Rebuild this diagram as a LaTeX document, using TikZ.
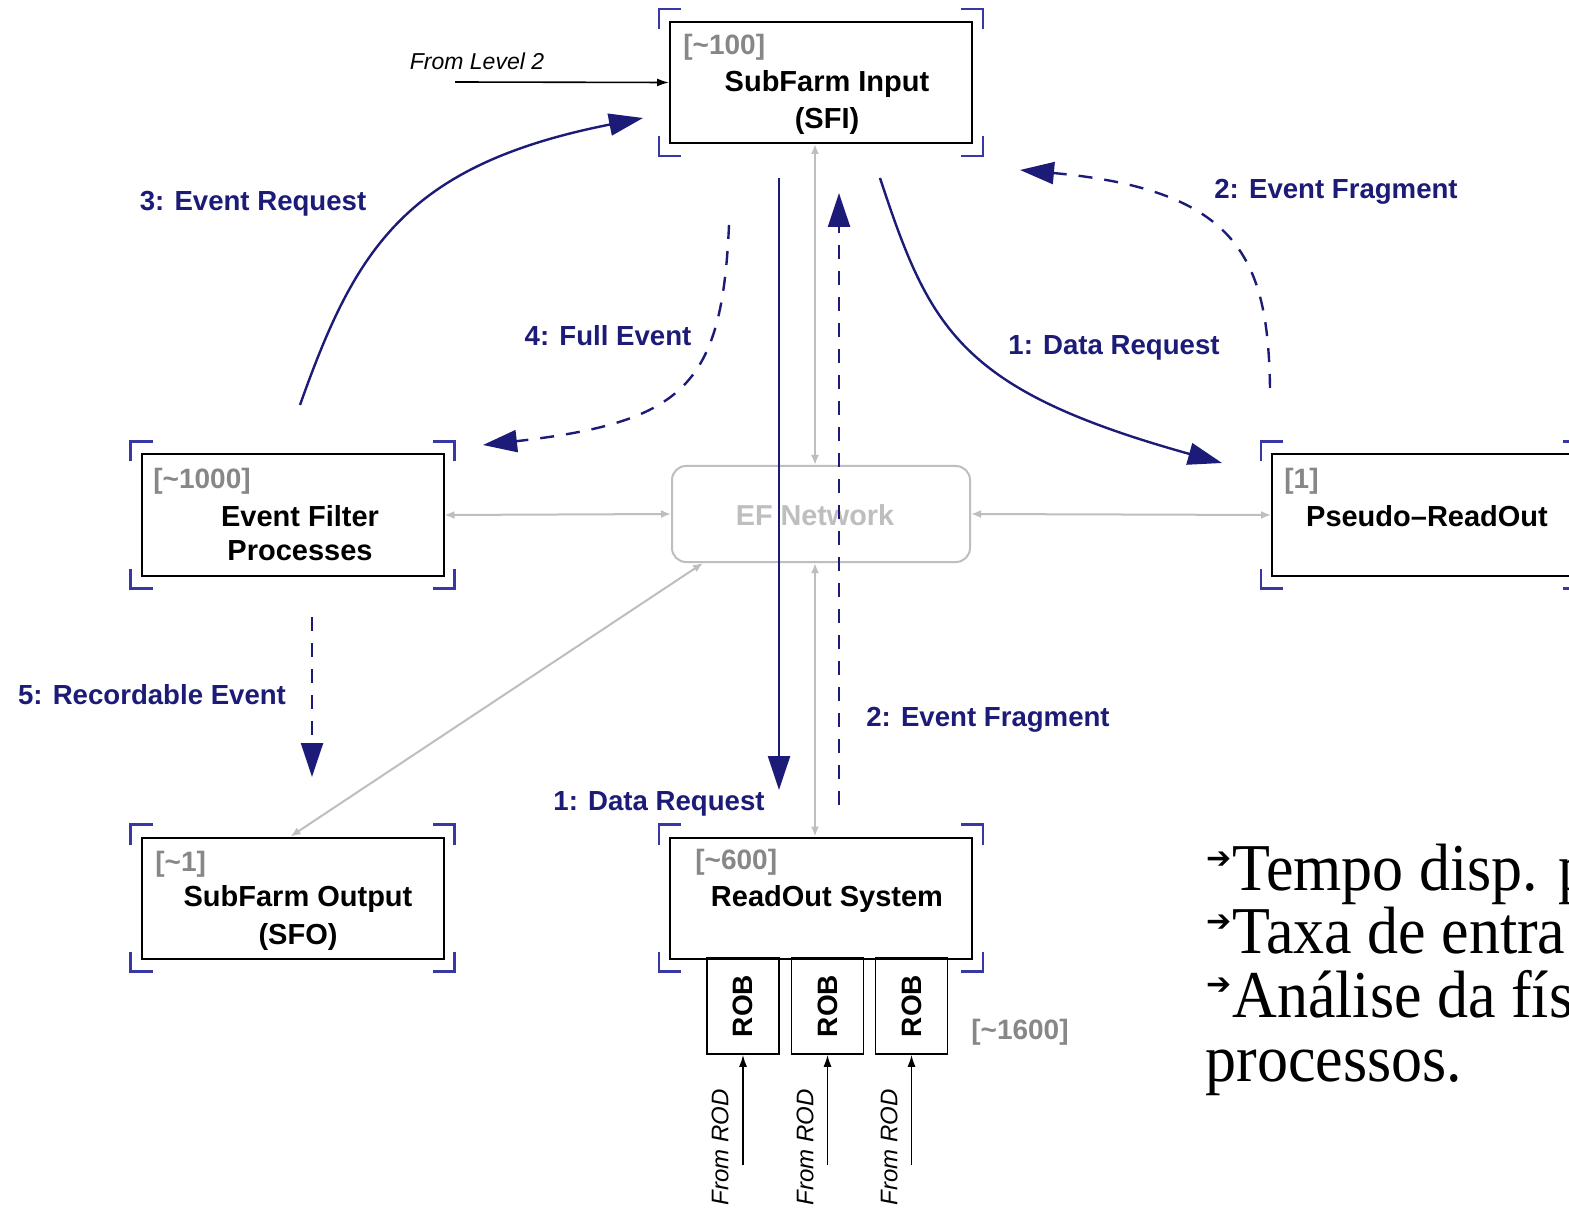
\documentclass[tikz,border=0pt]{standalone}
\usepackage{fontspec}
\setmainfont{Liberation Serif}
\setsansfont{Liberation Sans}
\newfontfamily\dvfont{DejaVu Sans}
\usetikzlibrary{arrows.meta,calc}
\definecolor{navy}{RGB}{28,28,120}
\definecolor{brkc}{RGB}{55,55,165}
\definecolor{lgray}{RGB}{190,190,190}
\definecolor{tgray}{RGB}{135,135,135}
\newcommand\boxcorners[1]{%
  \draw[brk] ([shift={(-5pt,-4pt)}]#1.north west) -- ++(0pt,10pt) -- ++(11pt,0pt);
  \draw[brk] ([shift={(5pt,-4pt)}]#1.north east) -- ++(0pt,10pt) -- ++(-11pt,0pt);
  \draw[brk] ([shift={(-5pt,4pt)}]#1.south west) -- ++(0pt,-10pt) -- ++(11pt,0pt);
  \draw[brk] ([shift={(5pt,4pt)}]#1.south east) -- ++(0pt,-10pt) -- ++(-11pt,0pt);
}
\newcommand\tallt[1]{\scalebox{1}[1.08]{#1}}
\begin{document}
\begin{tikzpicture}[x=0.5pt,y=-0.5pt,
  box/.style={draw=black,line width=1pt,minimum width=151pt,minimum height=60.5pt,inner sep=0pt,fill=white},
  robbox/.style={draw=black,line width=0.8pt,minimum width=48pt,minimum height=36pt,inner sep=0pt,rotate=90,
     font=\sffamily\bfseries\fontsize{14}{16}\selectfont},
  brk/.style={draw=brkc,line width=1.3pt},
  ttl/.style={font=\sffamily\bfseries\fontsize{14.5}{16}\selectfont,inner sep=0pt},
  cnt/.style={font=\sffamily\bfseries\fontsize{14}{16}\selectfont,text=tgray,inner sep=0pt,anchor=west},
  lbl/.style={font=\sffamily\bfseries\fontsize{13.8}{15}\selectfont,text=navy,inner sep=0pt},
  flow/.style={draw=navy,line width=1.2pt,-{Triangle[length=17pt,width=11pt]}},
  dflow/.style={flow,dash pattern=on 7pt off 6pt},
  net/.style={draw=lgray,line width=1pt,{Latex[length=5pt,width=4pt]}-{Latex[length=5pt,width=4pt]}},
  feed/.style={draw=black,line width=0.8pt,-{Latex[length=6pt,width=4pt]}},
  bigtxt/.style={font=\fontsize{31}{32}\selectfont,inner sep=0pt,anchor=base west},
  bul/.style={font=\dvfont\fontsize{15}{15}\selectfont,inner sep=0pt},
]
\useasboundingbox[fill=white] (0,0) rectangle (1569,1208);

% boxes
\node[box] (sfi) at (821,82.5) {};
\node[box] (efp) at (292.5,515) {};
\node[box] (pro) at (1423,515) {};
\node[box] (sfo) at (292.5,898) {};
\node[box] (ros) at (821,898) {};
\node[draw=lgray,line width=1pt,rounded corners=7pt,minimum width=149pt,minimum height=48pt,inner sep=0pt] (efn) at (821,514) {};
\node[font=\sffamily\bfseries\fontsize{14.4}{16}\selectfont,text=lgray,inner sep=0pt] (efnt) at (815,515) {EF Network};

\boxcorners{sfi}
\boxcorners{efp}
\boxcorners{pro}
\boxcorners{sfo}
\boxcorners{ros}

% ROBs
\node[robbox] (rob1) at (743,1006) {ROB};
\node[robbox] (rob2) at (827.5,1006) {ROB};
\node[robbox] (rob3) at (911.5,1006) {ROB};
\node[cnt,anchor=center] (n1600) at (1020,1032) {[\textasciitilde 1600]};

% box texts
\node[cnt] (c100) at (683,47) {[\textasciitilde 100]};
\node[ttl] (t1) at (827,84) {SubFarm Input};
\node[ttl] (t2) at (827,121) {(SFI)};
\node[cnt] (c1000) at (153,481) {[\textasciitilde 1000]};
\node[ttl] (t3) at (300,516) {Event Filter};
\node[ttl] (t4) at (300,551) {Processes};
\node[cnt] (c1) at (1284,481) {[1]};
\node[ttl] (t5) at (1427,516) {Pseudo--ReadOut};
\node[cnt] (c1b) at (155,864) {[\textasciitilde 1]};
\node[ttl] (t6) at (298,899) {SubFarm Output};
\node[ttl] (t7) at (298,937) {(SFO)};
\node[cnt] (c600) at (695,862) {[\textasciitilde 600]};
\node[ttl] (t8) at (827,899) {ReadOut System};

% gray network links
\draw[net] (efp.east) -- (efn.west);
\draw[net] (efn.east) -- (pro.west);
\draw[net] ($(sfi.south)+(-3pt,0pt)$) -- ($(efn.north)+(-3pt,0pt)$);
\draw[net] ($(efn.south)+(-3pt,0pt)$) -- ($(ros.north)+(-3pt,0pt)$);
\draw[net] ($(efn.south west)+(16pt,0pt)$) -- ($(sfo.north)+(-1pt,0pt)$);

% From Level 2
\coordinate (l2) at (455,82);
\draw[feed] (l2) -- (sfi.west);
\node[font=\sffamily\itshape\fontsize{11.5}{12}\selectfont,inner sep=0pt] (fl2) at (477,61) {From Level 2};

% From ROD
\coordinate (r1) at (743,1165);
\coordinate (r2) at (827.5,1165);
\coordinate (r3) at (911.5,1165);
\draw[feed] (r1) -- (rob1.west);
\draw[feed] (r2) -- (rob2.west);
\draw[feed] (r3) -- (rob3.west);
\node[rotate=90,anchor=west,font=\sffamily\itshape\fontsize{12}{12}\selectfont,inner sep=0pt] (fr1) at (720,1206) {From ROD};
\node[rotate=90,anchor=west,font=\sffamily\itshape\fontsize{12}{12}\selectfont,inner sep=0pt] (fr2) at (805,1206) {From ROD};
\node[rotate=90,anchor=west,font=\sffamily\itshape\fontsize{12}{12}\selectfont,inner sep=0pt] (fr3) at (889,1206) {From ROD};

% blue flows
\coordinate (s3) at (300,405);   \coordinate (e3) at (643,118);
\draw[flow] (s3) .. controls (355,250) and (405,165) .. (e3);
\coordinate (s4) at (729,225);   \coordinate (e4) at (483,445);
\draw[dflow] (s4) .. controls (722,385) and (685,422) .. (e4);
\coordinate (s2) at (1270,388);  \coordinate (e2) at (1020,170);
\draw[dflow] (s2) .. controls (1268,260) and (1240,190) .. (e2);
\coordinate (s1) at (880,178);   \coordinate (e1) at (1222,463);
\draw[flow] (s1) .. controls (930,330) and (960,390) .. (e1);
\coordinate (sv) at (779,178);   \coordinate (ev) at (779,790);
\draw[flow] (sv) -- (ev);
\coordinate (sd) at (839,805);   \coordinate (ed) at (839,193);
\draw[dflow] (sd) -- (ed);
\coordinate (s5) at (312,617);   \coordinate (e5) at (312,777);
\draw[dflow] (s5) -- (e5);

% blue labels
\node[lbl] (l3) at (253,204) {3: Event Request};
\node[lbl] (l4) at (608,336) {4: Full Event};
\node[lbl] (l2a) at (1336,192) {2: Event Fragment};
\node[lbl] (l1a) at (1114,348) {1: Data Request};
\node[lbl] (l5) at (152,695) {5: Recordable Event};
\node[lbl] (l2b) at (988,720) {2: Event Fragment};
\node[lbl] (l1b) at (659,804) {1: Data Request};

% side text
\node[bul] (b1) at (1219,860) {➔};
\node[bul] (b2) at (1219,923) {➔};
\node[bul] (b3) at (1219,986) {➔};
\node[bigtxt] (x1) at (1232,890) {\tallt{Tempo disp. p}};
\node[bigtxt] (x2) at (1232,953) {\tallt{Taxa de entra}};
\node[bigtxt] (x3) at (1232,1017) {\tallt{Análise da fís}};
\node[bigtxt] (x4) at (1205,1081) {\tallt{processos.}};
\end{tikzpicture}
\end{document}
